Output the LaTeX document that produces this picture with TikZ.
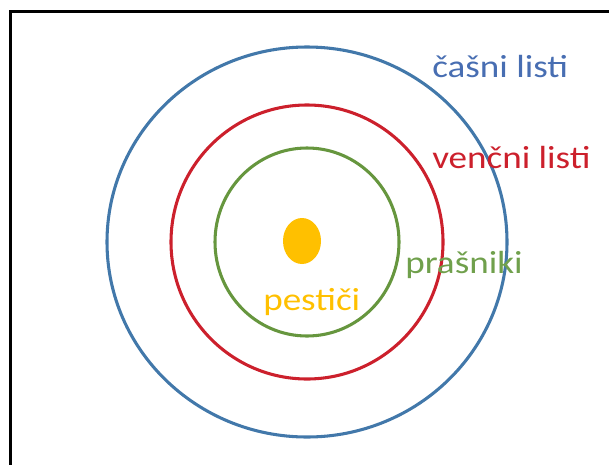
\documentclass[tikz,border=0pt]{standalone}
\usepackage{fontspec}
\setmainfont{Carlito}
\usepackage{graphicx}
\usepackage{tikz}
\definecolor{sepalblue}{RGB}{66,120,170}
\definecolor{sepaltext}{RGB}{72,110,178}
\definecolor{petalred}{RGB}{204,32,44}
\definecolor{stamengreen}{RGB}{102,150,62}
\definecolor{stamentext}{RGB}{112,160,76}
\definecolor{pistilyellow}{RGB}{255,192,0}
\newcommand{\widetext}[1]{\scalebox{1.16}[1]{#1}}

\begin{document}
\begin{tikzpicture}[x=0.75pt, y=-0.75pt,
      ring/.style={line width=2.3pt},
      lbl/.style={font=\fontsize{24}{27}\selectfont, anchor=base west, inner sep=0pt},
    ]
    \useasboundingbox (0,0) rectangle (609,464);
    %% frame
    \draw[line width=2.8pt] (10.5,11.5) rectangle (640,500);
    %% whorls
    \coordinate (ctr) at (307,242);
    \draw[ring, sepalblue] (ctr) ellipse [x radius=200, y radius=195];
    \draw[ring, petalred] (ctr) ellipse [x radius=136, y radius=137];
    \draw[ring, stamengreen] (ctr) ellipse [x radius=92, y radius=94];
    \fill[pistilyellow] (302,241) ellipse [x radius=19, y radius=23];
    %% labels
    \node[lbl, text=sepaltext] (casni) at (432,77) {\widetext{čašni listi}};
    \node[lbl, text=petalred] (vencni) at (432,168) {\widetext{venčni listi}};
    \node[lbl, text=stamentext] (prasniki) at (405,273) {\widetext{prašniki}};
    \node[lbl, text=pistilyellow] (pestici) at (263,310) {\widetext{pestiči}};
\end{tikzpicture}
\end{document}
